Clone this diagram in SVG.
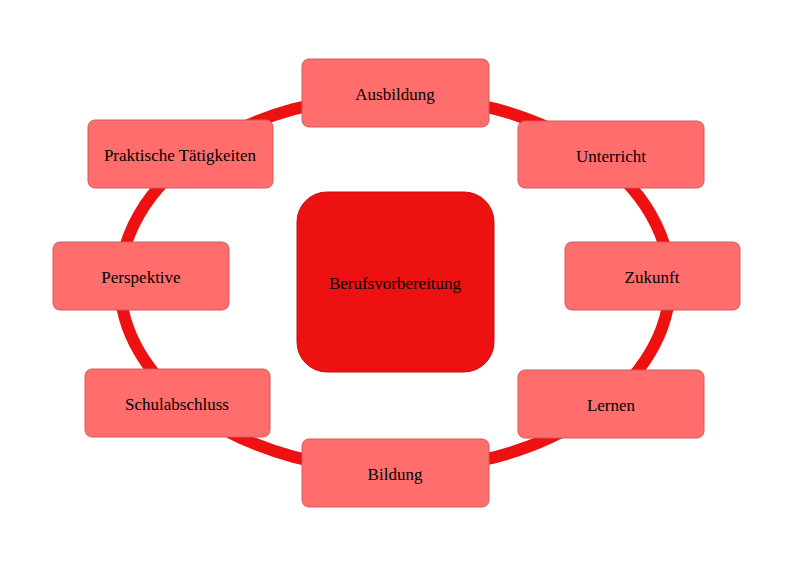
<svg xmlns="http://www.w3.org/2000/svg" width="800" height="565" viewBox="0 0 800 565">
<style>
.n rect{fill:#ff6d6d;stroke:#d25a5a;stroke-width:1}
text{font-family:"Liberation Serif",serif;font-size:17px;fill:#000;text-anchor:middle;dominant-baseline:central}
</style>
<rect width="800" height="565" fill="#fff"/>
<g id="connectors">
<ellipse cx="395" cy="283" rx="275" ry="187" fill="none" stroke="#ee1111" stroke-width="12"/>
</g>
<g id="center"><rect x="297" y="192" width="197" height="180" rx="30" fill="#ee1111" stroke="#c80f0f"/><text x="395" y="283">Berufsvorbereitung</text></g>
<g id="n1" class="n"><rect x="302" y="59" width="187" height="68" rx="7"/><text x="395" y="94">Ausbildung</text></g>
<g id="n2" class="n"><rect x="518" y="121" width="186" height="67" rx="7"/><text x="611" y="156">Unterricht</text></g>
<g id="n3" class="n"><rect x="565" y="242" width="175" height="68" rx="7"/><text x="652" y="277">Zukunft</text></g>
<g id="n4" class="n"><rect x="518" y="370" width="186" height="68" rx="7"/><text x="611" y="405">Lernen</text></g>
<g id="n5" class="n"><rect x="302" y="439" width="187" height="68" rx="7"/><text x="395" y="474">Bildung</text></g>
<g id="n6" class="n"><rect x="85" y="369" width="185" height="68" rx="7"/><text x="177" y="404">Schulabschluss</text></g>
<g id="n7" class="n"><rect x="53" y="242" width="176" height="68" rx="7"/><text x="141" y="277">Perspektive</text></g>
<g id="n8" class="n"><rect x="88" y="120" width="185" height="68" rx="7"/><text x="180" y="155">Praktische Tätigkeiten</text></g>
</svg>
